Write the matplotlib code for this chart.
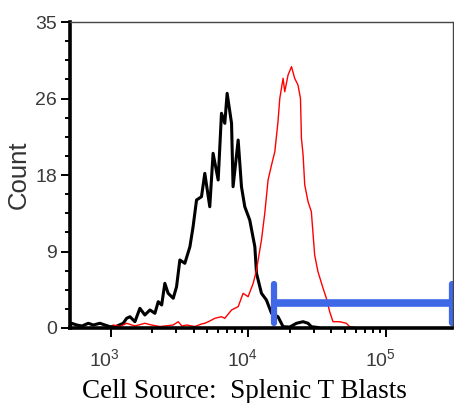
import numpy as np
import matplotlib
matplotlib.use('Agg')
import matplotlib.pyplot as plt
import matplotlib.transforms as mtransforms
from matplotlib.ticker import FixedLocator, NullFormatter

# histograms: log10(intensity) and count
black_logx = [2.705, 2.717, 2.754, 2.792, 2.838, 2.874, 2.922, 2.959, 2.995, 3.038,
              3.091, 3.116, 3.140, 3.176, 3.212, 3.248, 3.285, 3.321, 3.345, 3.370,
              3.393, 3.417, 3.454, 3.478, 3.502, 3.538, 3.575, 3.598, 3.623, 3.659,
              3.683, 3.719, 3.743, 3.780, 3.804, 3.828, 3.845, 3.877, 3.888, 3.925,
              3.949, 3.973, 4.009, 4.046, 4.058, 4.094, 4.130, 4.167, 4.214, 4.251,
              4.299, 4.348, 4.396, 4.432, 4.456, 4.502]
black_count = [0.17, 0.54, 0.34, 0.23, 0.54, 0.34, 0.54, 0.34, 0.15, 0.17,
               0.54, 1.11, 1.29, 0.72, 2.25, 1.49, 2.06, 1.68, 3.01, 2.63,
               5.11, 3.97, 3.40, 4.72, 7.78, 7.40, 9.30, 11.59, 14.64, 15.02,
               17.69, 13.87, 19.98, 16.93, 24.56, 23.41, 26.84, 23.41, 16.16, 21.50,
               16.16, 13.87, 12.35, 9.30, 6.26, 3.97, 3.20, 1.68, 1.29, 0.15,
               0.11, 0.54, 0.72, 0.54, 0.15, 0.06]

red_logx = [3.019, 3.067, 3.116, 3.176, 3.248, 3.297, 3.357, 3.454, 3.490, 3.517,
            3.551, 3.611, 3.659, 3.683, 3.719, 3.756, 3.804, 3.828, 3.877, 3.925,
            3.961, 3.997, 4.034, 4.058, 4.094, 4.118, 4.142, 4.167, 4.191, 4.214,
            4.227, 4.251, 4.263, 4.287, 4.312, 4.335, 4.359, 4.377, 4.384, 4.396,
            4.408, 4.432, 4.456, 4.480, 4.504, 4.541, 4.565, 4.589, 4.613, 4.661,
            4.710, 4.734, 4.770]
red_count = [0.34, 0.17, 0.54, 0.23, 0.54, 0.34, 0.17, 0.34, 0.72, 0.23,
             0.34, 0.17, 0.46, 0.54, 0.80, 1.11, 1.29, 1.11, 2.06, 2.44,
             3.97, 3.58, 5.11, 6.63, 10.07, 13.12, 16.93, 18.64, 20.17, 23.60,
             26.27, 28.56, 27.03, 28.94, 29.89, 28.56, 27.79, 26.27, 21.70, 19.79,
             16.36, 14.45, 13.30, 8.35, 6.44, 4.54, 3.40, 1.86, 0.72, 0.72,
             0.54, 0.15, 0.06]

# marker gate
gate_logx = [4.183, 5.48]
gate_count = 2.82
gate_bar = [0.61, 5.03]

yticks = [0, 8.75, 17.5, 26.25, 35]
ytick_labels = ['0', '9', '18', '26', '35']
xticks = [1e3, 1e4, 1e5]
xtick_labels = [r'$\mathregular{10^{3}}$', r'$\mathregular{10^{4}}$', r'$\mathregular{10^{5}}$']

plt.rcParams['font.family'] = ['Liberation Sans', 'DejaVu Sans']
plt.rcParams['mathtext.default'] = 'regular'

fig = plt.figure(figsize=(4.54, 4.03), dpi=100)
ax = fig.add_axes([70/454, 75/403, 382.5/454, 306/403])

ax.plot(10**np.array(black_logx), black_count, color='black', lw=2.2)
ax.plot(10**np.array(red_logx), red_count, color='#ff0000', lw=1.0)

blue = '#3f68e6'
gx = 10**np.array(gate_logx)
ax.plot(gx, [gate_count, gate_count], color=blue, lw=5.5, solid_capstyle='butt', clip_on=False)
ax.plot([gx[0], gx[0]], gate_bar, color=blue, lw=4.5, solid_capstyle='round', clip_on=False)
ax.plot([gx[1], gx[1]], gate_bar, color=blue, lw=4.5, solid_capstyle='round', clip_on=False)

ax.set_xscale('log')
ax.set_xlim(10**2.705, 10**5.48)
ax.set_ylim(0, 35)

ax.set_yticks(yticks, ytick_labels)
ax.yaxis.set_minor_locator(FixedLocator(np.arange(0, 35.01, 2.1875)))
ax.set_xticks(xticks, xtick_labels)
ax.xaxis.set_minor_locator(FixedLocator([k*10.0**e for e in (3, 4) for k in range(2, 10)]))
ax.xaxis.set_minor_formatter(NullFormatter())

for s in ['left', 'bottom']:
    ax.spines[s].set_linewidth(2.6)
for s in ['top', 'right']:
    ax.spines[s].set_linewidth(1.0)
    ax.spines[s].set_color('#444444')

ax.tick_params(which='major', length=6.5, width=1.4, labelsize=14, labelcolor='#3a3a3a')
ax.tick_params(which='minor', length=3.5, width=1.4)
ax.tick_params(axis='x', pad=8)
ax.tick_params(axis='y', pad=3)

offset = mtransforms.ScaledTranslation(-0.06, 0, fig.dpi_scale_trans)
for lab in ax.get_xticklabels():
    lab.set_transform(lab.get_transform() + offset)

fig.text(19/454, 1 - 175/403, 'Count', rotation=90, ha='center', va='center',
         fontsize=18.5, color='#333333')
fig.text(244/454, 5/403, 'Cell Source:  Splenic T Blasts', ha='center', va='baseline',
         fontsize=19.5, family=['Liberation Serif', 'DejaVu Serif'])

fig.savefig('out.png', dpi=100)
